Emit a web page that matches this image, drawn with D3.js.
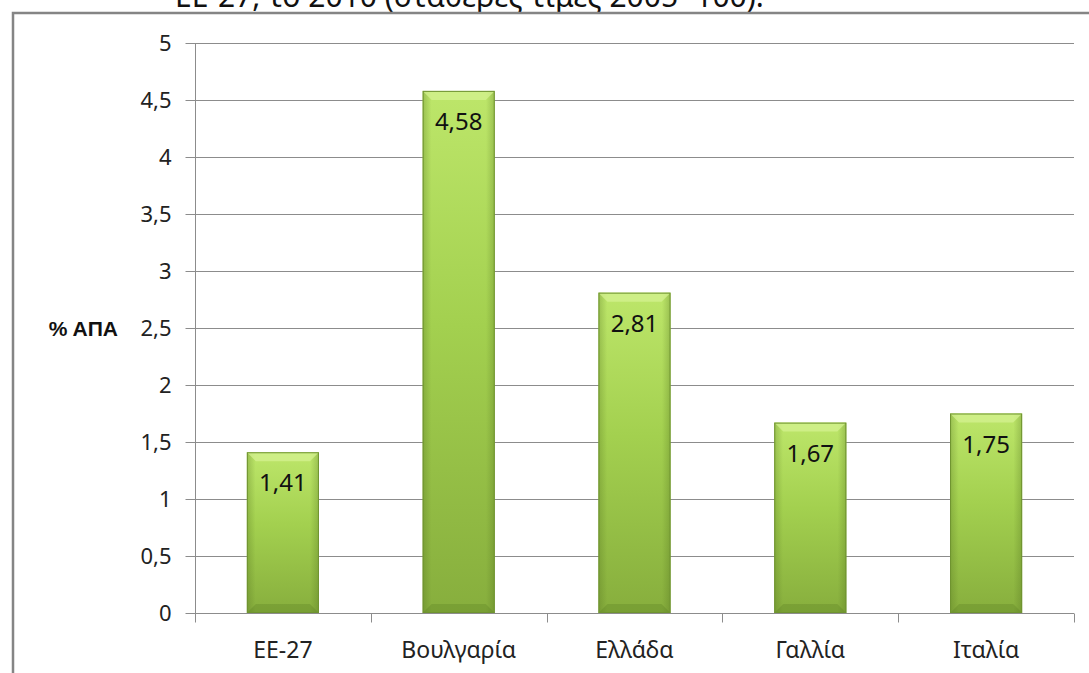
<!DOCTYPE html>
<html>
<head>
<meta charset="utf-8">
<script src="https://cdn.jsdelivr.net/npm/d3@7"></script>
<style>
  body { margin: 0; background: #fff; }
  svg { display: block; font-family: "Noto Sans", "Open Sans", sans-serif; }
</style>
</head>
<body>
<div id="chart"></div>
<script>
// values
const categories = ['ΕΕ-27', 'Βουλγαρία', 'Ελλάδα', 'Γαλλία', 'Ιταλία'];
const values = [1.41, 4.58, 2.81, 1.67, 1.75];
const yTicks = [0, 0.5, 1, 1.5, 2, 2.5, 3, 3.5, 4, 4.5, 5];
const yTitle = '% ΑΠΑ';
const caption = 'ΕΕ-27, το 2010 (σταθερές τιμές 2005=100).';

const width = 1089, height = 673;
const margin = { top: 43, right: 15, bottom: 60, left: 195 };
const fmt = v => String(v).replace('.', ',');

const svg = d3.select('#chart').append('svg')
    .attr('width', width)
    .attr('height', height);

// gradients for the bevelled excel bars
const defs = svg.append('defs');
const vg = defs.append('linearGradient').attr('id', 'barV')
    .attr('x1', 0).attr('y1', 0).attr('x2', 0).attr('y2', 1);
vg.append('stop').attr('offset', '0%').attr('stop-color', '#bde66a');
vg.append('stop').attr('offset', '45%').attr('stop-color', '#a3d04f');
vg.append('stop').attr('offset', '100%').attr('stop-color', '#87ae3d');
const hg = defs.append('linearGradient').attr('id', 'barH')
    .attr('x1', 0).attr('y1', 0).attr('x2', 1).attr('y2', 0);
hg.append('stop').attr('offset', '0%').attr('stop-color', '#4d6b1c').attr('stop-opacity', 0.3);
hg.append('stop').attr('offset', '12%').attr('stop-color', '#4d6b1c').attr('stop-opacity', 0);
hg.append('stop').attr('offset', '88%').attr('stop-color', '#4d6b1c').attr('stop-opacity', 0);
hg.append('stop').attr('offset', '100%').attr('stop-color', '#4d6b1c').attr('stop-opacity', 0.3);

// caption line cut off at the top of the picture, as in the source
svg.append('text')
    .attr('x', 175).attr('y', 7)
    .attr('font-size', 30).attr('fill', '#111')
    .text(caption);

// outer frame (only left and top edges visible)
svg.append('path')
    .attr('d', `M13,${height} L13,13 L${width},13`)
    .attr('fill', 'none').attr('stroke', '#858585').attr('stroke-width', 2.5);

const x = d3.scaleBand()
    .domain(categories)
    .range([margin.left, width - margin.right])
    .paddingInner(0.59)
    .paddingOuter(0.295);

const y = d3.scaleLinear()
    .domain([0, 5])
    .range([height - margin.bottom, margin.top]);

const x0 = margin.left, x1 = width - margin.right, yBase = y(0);

// gridlines
svg.append('g')
    .selectAll('line').data(yTicks.filter(d => d > 0)).enter().append('line')
    .attr('x1', x0).attr('x2', x1)
    .attr('y1', d => Math.round(y(d)) + 0.5).attr('y2', d => Math.round(y(d)) + 0.5)
    .attr('stroke', '#8c8c8c');

// y axis
const yAxis = svg.append('g')
    .attr('transform', `translate(${x0 + 0.5},0)`)
    .call(d3.axisLeft(y).tickValues(yTicks).tickSize(10).tickPadding(14).tickFormat(fmt));
yAxis.select('.domain').attr('stroke', '#8c8c8c').attr('d', `M0,${margin.top}V${yBase + 9}`);
yAxis.selectAll('.tick line').attr('stroke', '#8c8c8c');
yAxis.selectAll('.tick text').attr('font-size', 22).attr('fill', '#222')
    .attr('font-family', '"Noto Sans", sans-serif');

// x axis with ticks between categories
const step = x.step();
const xAxis = svg.append('g')
    .attr('transform', `translate(0,${Math.round(yBase) + 0.5})`);
xAxis.append('line').attr('x1', x0).attr('x2', x1).attr('stroke', '#8c8c8c');
xAxis.selectAll('line.sep').data(d3.range(categories.length + 1)).enter().append('line')
    .attr('class', 'sep')
    .attr('x1', i => Math.round(x0 + i * step) + 0.5).attr('x2', i => Math.round(x0 + i * step) + 0.5)
    .attr('y1', 0).attr('y2', 9)
    .attr('stroke', '#8c8c8c');
xAxis.selectAll('text').data(categories).enter().append('text')
    .attr('x', d => x(d) + x.bandwidth() / 2)
    .attr('y', 44)
    .attr('text-anchor', 'middle')
    .attr('font-size', 23).attr('fill', '#222')
    .text(d => d);

// y title
svg.append('text')
    .attr('x', 118).attr('y', Math.round(y(2.5)) + 8)
    .attr('text-anchor', 'end')
    .attr('font-family', '"Liberation Sans", Arial, sans-serif')
    .attr('font-weight', 'bold').attr('font-size', 21).attr('fill', '#111')
    .text(yTitle);

// bars
const data = categories.map((c, i) => ({ name: c, value: values[i] }));
const bars = svg.append('g').selectAll('g').data(data).enter().append('g');
const bw = x.bandwidth(), bev = 9;

bars.append('rect')
    .attr('x', d => x(d.name)).attr('y', d => y(d.value))
    .attr('width', bw).attr('height', d => yBase - y(d.value))
    .attr('fill', 'url(#barV)');
bars.append('rect')
    .attr('x', d => x(d.name)).attr('y', d => y(d.value))
    .attr('width', bw).attr('height', d => yBase - y(d.value))
    .attr('fill', 'url(#barH)');
// top bevel
bars.append('path')
    .attr('d', d => {
        const l = x(d.name), t = y(d.value);
        return `M${l},${t}H${l + bw}L${l + bw - bev},${t + bev}H${l + bev}Z`;
    })
    .attr('fill', '#d4f290').attr('opacity', 0.75);
// bottom bevel
bars.append('path')
    .attr('d', d => {
        const l = x(d.name);
        return `M${l},${yBase}H${l + bw}L${l + bw - bev},${yBase - bev}H${l + bev}Z`;
    })
    .attr('fill', '#5f8424').attr('opacity', 0.35);
bars.append('rect')
    .attr('x', d => x(d.name) + 0.5).attr('y', d => y(d.value) + 0.5)
    .attr('width', bw - 1).attr('height', d => yBase - y(d.value) - 1)
    .attr('fill', 'none').attr('stroke', '#6f9330').attr('stroke-width', 1);

// value labels
bars.append('text')
    .attr('x', d => x(d.name) + bw / 2)
    .attr('y', d => y(d.value) + 39)
    .attr('text-anchor', 'middle')
    .attr('font-size', 24).attr('fill', '#111')
    .text(d => fmt(d.value));
</script>
</body>
</html>
